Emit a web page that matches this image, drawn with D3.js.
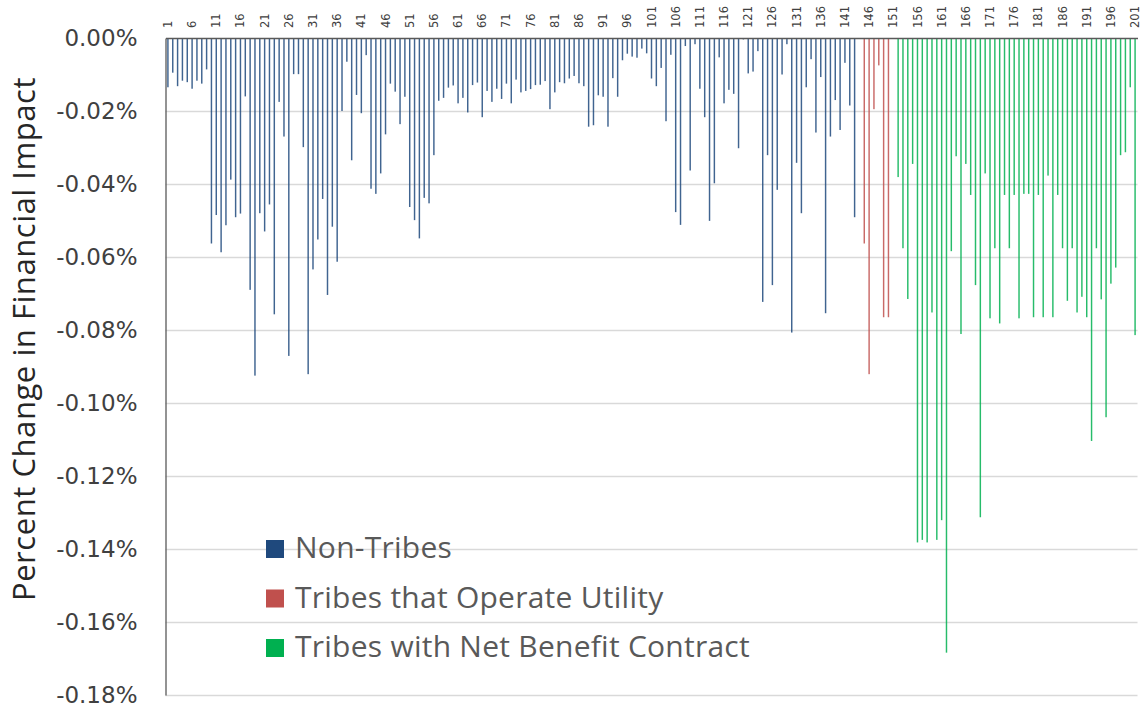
<!DOCTYPE html>
<html>
<head>
<meta charset="utf-8">
<script src="https://cdn.jsdelivr.net/npm/d3@7"></script>
<style>
  html, body { margin: 0; padding: 0; background: #ffffff; }
  svg { display: block; }
</style>
</head>
<body>
<svg id="chart" width="1143" height="712"></svg>
<script>
// Percent change in financial impact, by customer (values in percent)
const categories = d3.range(1, 202);

const tickLabels = [1, 6, 11, 16, 21, 26, 31, 36, 41, 46, 51, 56, 61, 66, 71, 76, 81, 86, 91, 96,
  101, 106, 111, 116, 121, 126, 131, 136, 141, 146, 151, 156, 161, 166, 171, 176, 181, 186, 191, 196, 201];

const yTicks = [0, -0.02, -0.04, -0.06, -0.08, -0.10, -0.12, -0.14, -0.16, -0.18];

// Non-Tribes: categories 1-143
const nonTribesStart = 1;
const nonTribes = [
  -0.0135, -0.0095, -0.0132, -0.0117, -0.0121, -0.0139, -0.0117, -0.0125, -0.0086, -0.0563,
  -0.0485, -0.0587, -0.0513, -0.0388, -0.0491, -0.0481, -0.0160, -0.0690, -0.0925, -0.0480,
  -0.0530, -0.0456, -0.0757, -0.0175, -0.0270, -0.0871, -0.0099, -0.0099, -0.0299, -0.0921,
  -0.0634, -0.0552, -0.0441, -0.0704, -0.0517, -0.0613, -0.0200, -0.0065, -0.0335, -0.0156,
  -0.0206, -0.0047, -0.0413, -0.0427, -0.0371, -0.0264, -0.0125, -0.0147, -0.0236, -0.0161,
  -0.0463, -0.0499, -0.0549, -0.0438, -0.0453, -0.0321, -0.0172, -0.0164, -0.0136, -0.0130,
  -0.0179, -0.0164, -0.0204, -0.0129, -0.0122, -0.0217, -0.0145, -0.0175, -0.0139, -0.0167,
  -0.0125, -0.0179, -0.0114, -0.0149, -0.0145, -0.0140, -0.0129, -0.0128, -0.0118, -0.0195,
  -0.0149, -0.0121, -0.0124, -0.0111, -0.0104, -0.0124, -0.0132, -0.0243, -0.0239, -0.0157,
  -0.0161, -0.0243, -0.0110, -0.0161, -0.0061, -0.0043, -0.0051, -0.0054, -0.0029, -0.0042,
  -0.0111, -0.0132, -0.0082, -0.0228, -0.0046, -0.0477, -0.0512, -0.0022, -0.0363, -0.0017,
  -0.0139, -0.0217, -0.0501, -0.0398, -0.0053, -0.0179, -0.0142, -0.0153, -0.0302, -0.0004,
  -0.0097, -0.0092, -0.0036, -0.0723, -0.0321, -0.0677, -0.0416, -0.0100, -0.0017, -0.0807,
  -0.0342, -0.0480, -0.0135, -0.0058, -0.0259, -0.0107, -0.0754, -0.0270, -0.0170, -0.0252,
  -0.0068, -0.0185, -0.0491
];

// Tribes that Operate Utility: categories 145-150
const utilityStart = 145;
const utilityTribes = [-0.0563, -0.0921, -0.0195, -0.0075, -0.0765, -0.0765];

// Tribes with Net Benefit Contract: categories 152-201
const contractStart = 152;
const contractTribes = [
  -0.0381, -0.0576, -0.0715, -0.0345, -0.1382, -0.1375, -0.1382, -0.0752, -0.1375, -0.1321,
  -0.1684, -0.0584, -0.0324, -0.0811, -0.0345, -0.0430, -0.0677, -0.1313, -0.0371, -0.0768,
  -0.0576, -0.0782, -0.0430, -0.0576, -0.0430, -0.0768, -0.0427, -0.0427, -0.0765, -0.0430,
  -0.0765, -0.0377, -0.0765, -0.0430, -0.0576, -0.0720, -0.0576, -0.0752, -0.0709, -0.0765,
  -0.1104, -0.0576, -0.0716, -0.1039, -0.0673, -0.0629, -0.0321, -0.0313, -0.0135, -0.0814
];

const seriesNames = ["Non-Tribes", "Tribes that Operate Utility", "Tribes with Net Benefit Contract"];
const seriesColors = ["#1F497D", "#C0504D", "#00B050"];

const series = [
  { name: seriesNames[0], color: seriesColors[0], start: nonTribesStart, values: nonTribes },
  { name: seriesNames[1], color: seriesColors[1], start: utilityStart, values: utilityTribes },
  { name: seriesNames[2], color: seriesColors[2], start: contractStart, values: contractTribes }
];

const svg = d3.select("#chart");

const plot = { left: 165.5, right: 1137.5, top: 38, bottom: 695 };

const x = d3.scaleBand()
  .domain(categories)
  .range([plot.left, plot.right])
  .paddingInner(0.7)
  .paddingOuter(0.35);

const y = d3.scaleLinear()
  .domain([-0.18, 0])
  .range([plot.bottom, plot.top]);

// Horizontal gridlines
svg.append("g")
  .selectAll("line")
  .data(yTicks.filter(d => d !== 0))
  .join("line")
  .attr("x1", plot.left)
  .attr("x2", plot.right)
  .attr("y1", d => Math.round(y(d)) + 0.5)
  .attr("y2", d => Math.round(y(d)) + 0.5)
  .attr("stroke", "#D9D9D9")
  .attr("stroke-width", 1.3);

// Bars hanging from the zero line
const bars = svg.append("g");
series.forEach(s => {
  bars.append("g")
    .selectAll("rect")
    .data(s.values.map((v, i) => ({ cat: s.start + i, v })))
    .join("rect")
    .attr("x", d => x(d.cat))
    .attr("y", y(0))
    .attr("width", x.bandwidth())
    .attr("height", d => y(d.v) - y(0))
    .attr("fill", s.color)
    .attr("fill-opacity", 0.85);
});

// Category axis along the top (zero line)
const xAxis = svg.append("g")
  .attr("transform", `translate(0,${plot.top})`)
  .call(d3.axisTop(x).tickValues(tickLabels).tickSize(0).tickPadding(0));
xAxis.select(".domain")
  .attr("stroke", "#595959")
  .attr("stroke-width", 1.3);
xAxis.selectAll("text")
  .attr("transform", "rotate(-90)")
  .attr("x", 10)
  .attr("y", 0)
  .attr("dy", "0.35em")
  .attr("text-anchor", "start")
  .attr("font-family", "DejaVu Sans")
  .attr("font-size", 11.5)
  .attr("fill", "#404040");

// Value axis on the left (hyphen-minus labels)
const pct = d => d3.format(".2f")(d).replace("\u2212", "-") + "%";
const yAxis = svg.append("g")
  .attr("transform", `translate(${plot.left},0)`)
  .call(d3.axisLeft(y).tickValues(yTicks).tickSize(0).tickPadding(28).tickFormat(pct));
yAxis.select(".domain")
  .attr("stroke", "#595959")
  .attr("stroke-width", 1.3);
yAxis.selectAll("text")
  .attr("font-family", "DejaVu Sans")
  .attr("font-size", 23)
  .attr("fill", "#404040");

// Axis title
svg.append("text")
  .attr("transform", "translate(35,339) rotate(-90)")
  .attr("text-anchor", "middle")
  .attr("font-family", "Open Sans")
  .attr("font-size", 31)
  .attr("letter-spacing", 0.55)
  .attr("fill", "#262626")
  .text("Percent Change in Financial Impact");

// Legend inside the plot
const legend = svg.append("g").attr("transform", "translate(266,540)");
const rowGap = 49.5;
seriesNames.forEach((name, i) => {
  const row = legend.append("g").attr("transform", `translate(0,${i * rowGap})`);
  row.append("rect")
    .attr("x", 0).attr("y", 0)
    .attr("width", 18).attr("height", 18)
    .attr("fill", seriesColors[i]);
  row.append("text")
    .attr("x", 29)
    .attr("y", 18)
    .attr("font-family", "Open Sans")
    .attr("font-size", 30)
    .attr("letter-spacing", 0.25)
    .attr("fill", "#595959")
    .text(name);
});
</script>
</body>
</html>
